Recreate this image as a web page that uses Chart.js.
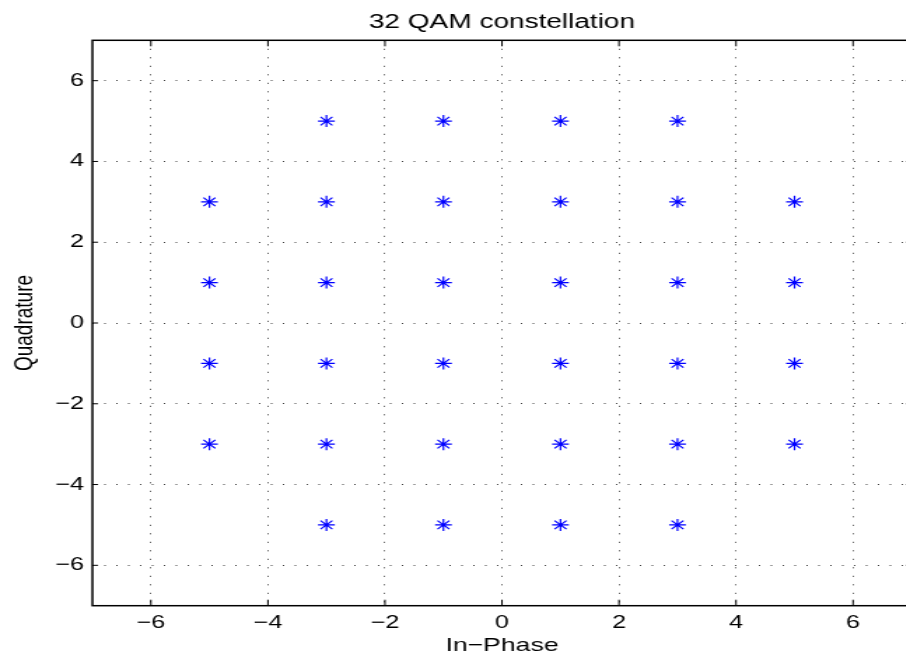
<!DOCTYPE html>
<html>
<head>
<meta charset="utf-8">
<title>32 QAM constellation</title>
<script src="https://cdn.jsdelivr.net/npm/chart.js@4.4.0/dist/chart.umd.min.js"></script>
<style>
    html, body { margin: 0; padding: 0; background: #fff; overflow: hidden; width: 906px; height: 660px; }
    /* the reference picture is stretched sideways, so the canvas is too */
    #wrap { position: absolute; left: 0; top: 0; width: 660px; height: 660px; transform: scaleX(1.4); transform-origin: 0 0; }
</style>
</head>
<body>
<div id="wrap"><canvas id="qamChart" width="660" height="660"></canvas></div>
<script>
// ===== DATA =====
const inPhase    = [-3, -1, 1, 3,  -5, -3, -1, 1, 3, 5,  -5, -3, -1, 1, 3, 5,  -5, -3, -1, 1, 3, 5,  -5, -3, -1, 1, 3, 5,  -3, -1, 1, 3];
const quadrature = [ 5,  5, 5, 5,   3,  3,  3, 3, 3, 3,   1,  1,  1, 1, 1, 1,  -1, -1, -1, -1, -1, -1,  -3, -3, -3, -3, -3, -3,  -5, -5, -5, -5];
const xTicks = [-6, -4, -2, 0, 2, 4, 6];
const yTicks = [-6, -4, -2, 0, 2, 4, 6];
const axisMin = -7;
const axisMax = 7;

const titleText = "32 QAM constellation";
const xLabel = "In\u2212Phase";
const yLabel = "Quadrature";

const FONT = '"Liberation Sans", Arial, Helvetica, sans-serif';
Chart.defaults.font.family = FONT;
Chart.defaults.color = "#000";

function minusLabel(v) {
    return String(v).replace("-", "\u2212");
}

// ===== FRAME, INWARD TICKS AND TITLE =====
const framePlugin = {
    id: "frame",
    afterDraw(chart) {
        const { ctx, chartArea: a, scales } = chart;
        ctx.save();
        ctx.strokeStyle = "#000";
        ctx.lineWidth = 1.5;
        ctx.strokeRect(a.left, a.top, a.right - a.left, a.bottom - a.top);

        ctx.lineWidth = 1;
        ctx.beginPath();
        xTicks.forEach(v => {
            const x = scales.x.getPixelForValue(v);
            ctx.moveTo(x, a.top); ctx.lineTo(x, a.top + 6);
            ctx.moveTo(x, a.bottom); ctx.lineTo(x, a.bottom - 6);
        });
        yTicks.forEach(v => {
            const y = scales.y.getPixelForValue(v);
            ctx.moveTo(a.left, y); ctx.lineTo(a.left + 4, y);
            ctx.moveTo(a.right, y); ctx.lineTo(a.right - 4, y);
        });
        ctx.stroke();

        ctx.fillStyle = "#000";
        ctx.font = "20px " + FONT;
        ctx.textAlign = "center";
        ctx.textBaseline = "alphabetic";
        ctx.fillText(titleText, (a.left + a.right) / 2, 28);
        ctx.restore();
    }
};

// ===== CHART =====
const points = inPhase.map((x, i) => ({ x: x, y: quadrature[i] }));
const dotted = { display: false, dash: [1, 7.5] };

new Chart(document.getElementById("qamChart"), {
    type: "scatter",
    data: {
        datasets: [{
            label: "32 QAM",
            data: points,
            pointStyle: "star",
            pointRadius: 6,
            pointBorderWidth: 1.2,
            borderColor: "#0000ff",
            backgroundColor: "#0000ff",
            showLine: false
        }]
    },
    options: {
        responsive: false,
        animation: false,
        events: [],
        layout: { padding: { top: 40.3, right: 8.9, left: 0, bottom: 0 } },
        plugins: {
            legend: { display: false },
            tooltip: { enabled: false },
            title: { display: false }
        },
        scales: {
            x: {
                type: "linear",
                min: axisMin,
                max: axisMax,
                afterBuildTicks: s => { s.ticks = xTicks.map(v => ({ value: v })); },
                afterFit: s => { s.height = 54.3; },
                grid: { color: "rgba(0,0,0,0.75)", lineWidth: 1, drawTicks: false },
                border: dotted,
                ticks: { padding: 6.3, font: { size: 18 }, color: "#000", callback: minusLabel },
                title: { display: true, text: xLabel, font: { size: 19 }, color: "#000", padding: { top: 0, bottom: 3.2 } }
            },
            y: {
                type: "linear",
                min: axisMin,
                max: axisMax,
                afterBuildTicks: s => { s.ticks = yTicks.map(v => ({ value: v })); },
                afterFit: s => { s.width = 66; },
                grid: { color: "rgba(0,0,0,0.75)", lineWidth: 1, drawTicks: false },
                border: dotted,
                ticks: { padding: 6, font: { size: 18 }, color: "#000", callback: minusLabel },
                title: { display: true, text: yLabel, font: { size: 19 }, color: "#000", padding: { top: 6.6, bottom: 0 } }
            }
        }
    },
    plugins: [framePlugin]
});
</script>
</body>
</html>
